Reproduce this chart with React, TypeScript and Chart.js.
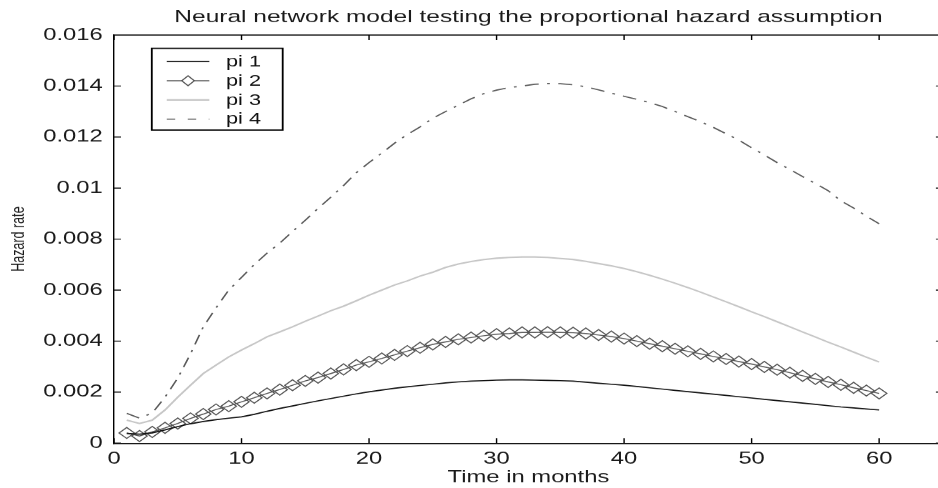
import React, { useEffect, useRef } from 'react';
import { Chart, registerables } from 'chart.js';

Chart.register(...registerables);

// ---- data -------------------------------------------------------------
const months = [
  1, 2, 3, 4, 5, 6, 7, 8, 9, 10, 11, 12, 13, 14, 15, 16, 17, 18, 19, 20,
  21, 22, 23, 24, 25, 26, 27, 28, 29, 30, 31, 32, 33, 34, 35, 36, 37, 38, 39, 40,
  41, 42, 43, 44, 45, 46, 47, 48, 49, 50, 51, 52, 53, 54, 55, 56, 57, 58, 59, 60,
];

const pi1 = [
  0.00038, 0.00035, 0.0004, 0.00052, 0.00065, 0.00076, 0.00085, 0.00092, 0.00098, 0.00103,
  0.00113, 0.00125, 0.00136, 0.00146, 0.00156, 0.00166, 0.00175, 0.00184, 0.00193, 0.00201,
  0.00208, 0.00215, 0.00221, 0.00226, 0.00231, 0.00236, 0.0024, 0.00243, 0.00245, 0.00247,
  0.00248, 0.00248, 0.00247, 0.00246, 0.00245, 0.00243, 0.00239, 0.00235, 0.00231, 0.00227,
  0.00222, 0.00217, 0.00212, 0.00207, 0.00202, 0.00197, 0.00192, 0.00187, 0.00182, 0.00177,
  0.00172, 0.00167, 0.00162, 0.00157, 0.00152, 0.00147, 0.00142, 0.00138, 0.00134, 0.0013,
];

const pi2 = [
  0.0004, 0.00028, 0.00044, 0.0006, 0.00077, 0.00097, 0.00114, 0.00132, 0.00145, 0.00162,
  0.00178, 0.00195, 0.0021, 0.00227, 0.00244, 0.00257, 0.00273, 0.00289, 0.00306, 0.00319,
  0.00332, 0.00346, 0.00361, 0.00374, 0.00387, 0.00397, 0.00407, 0.00414, 0.00421, 0.00427,
  0.0043, 0.00434, 0.00434, 0.00435, 0.00434, 0.00433, 0.0043, 0.00424, 0.00418, 0.0041,
  0.004, 0.0039, 0.0038, 0.0037, 0.0036, 0.0035, 0.0034, 0.0033, 0.0032, 0.0031,
  0.00299, 0.00288, 0.00276, 0.00264, 0.00252, 0.0024, 0.00229, 0.00217, 0.00206, 0.00195,
];

const pi3 = [
  0.0009, 0.00077, 0.0009, 0.0013, 0.0018, 0.00227, 0.00273, 0.00306, 0.00338, 0.00365,
  0.0039, 0.00417, 0.00436, 0.00456, 0.00478, 0.00498, 0.00519, 0.00537, 0.00558, 0.0058,
  0.006, 0.0062, 0.00636, 0.00655, 0.0067, 0.00689, 0.00702, 0.00712, 0.0072, 0.00725,
  0.00728, 0.0073, 0.0073, 0.00728, 0.00724, 0.0072, 0.00713, 0.00704, 0.00695, 0.00685,
  0.00672, 0.00658, 0.00643, 0.00627, 0.0061, 0.00592, 0.00573, 0.00554, 0.00535, 0.00515,
  0.00496, 0.00476, 0.00456, 0.00436, 0.00416, 0.00396, 0.00377, 0.00357, 0.00337, 0.00318,
];

const pi4 = [
  0.00117, 0.00098, 0.00118, 0.0018, 0.00255, 0.0035, 0.00456, 0.0053, 0.006, 0.0065,
  0.007, 0.00745, 0.00784, 0.0083, 0.00874, 0.0092, 0.00964, 0.0101, 0.0106, 0.011,
  0.01137, 0.01176, 0.0121, 0.0124, 0.01274, 0.013, 0.01325, 0.0135, 0.0137, 0.01384,
  0.01394, 0.014, 0.01407, 0.0141, 0.01409, 0.01405, 0.01397, 0.01385, 0.01372, 0.0136,
  0.01348, 0.01335, 0.0132, 0.013, 0.0128, 0.0126, 0.01238, 0.01213, 0.01188, 0.01158,
  0.0113, 0.011, 0.01073, 0.01045, 0.01018, 0.0099, 0.0095, 0.00922, 0.0089, 0.0086,
];

const seriesLabels = ['pi 1', 'pi 2', 'pi 3', 'pi 4'];
const chartTitle = 'Neural network model testing the proportional hazard assumption';
const xAxisTitle = 'Time in months';
const yAxisTitle = 'Hazard rate';

// ---- layout (reference is horizontally stretched) -----------------------
const SX = 1.4;
const CW = 680;
const CH = 488;
const FONT = '"Liberation Sans", Arial, Helvetica, sans-serif';

const toPoints = (vals: number[]) => months.map((m, i) => ({ x: m, y: vals[i] }));

const framePlugin = {
  id: 'frameTicks',
  afterDraw(chart: any) {
    const { ctx, chartArea: a, scales } = chart;
    const x = scales.x;
    const y = scales.y;
    ctx.save();
    ctx.strokeStyle = '#000';
    ctx.lineWidth = 1;
    ctx.beginPath();
    ctx.moveTo(a.left, a.top);
    ctx.lineTo(a.right, a.top);
    ctx.lineTo(a.right, a.bottom);
    for (const t of x.ticks) {
      const px = x.getPixelForValue(t.value);
      ctx.moveTo(px, a.bottom);
      ctx.lineTo(px, a.bottom - 5);
      ctx.moveTo(px, a.top);
      ctx.lineTo(px, a.top + 5);
    }
    for (const t of y.ticks) {
      const py = y.getPixelForValue(t.value);
      ctx.moveTo(a.left, py);
      ctx.lineTo(a.left + 5, py);
      ctx.moveTo(a.right, py);
      ctx.lineTo(a.right - 5, py);
    }
    ctx.stroke();
    ctx.restore();
  },
};

const legendPlugin = {
  id: 'boxLegend',
  afterDraw(chart: any) {
    const { ctx, chartArea: a } = chart;
    const bx = a.left + 27;
    const by = a.top + 13.3;
    const bw = 93.5;
    const bh = 81.7;
    ctx.save();
    ctx.fillStyle = '#fff';
    ctx.fillRect(bx, by, bw, bh);
    ctx.strokeStyle = '#000';
    ctx.lineWidth = 1.3;
    ctx.strokeRect(bx, by, bw, bh);
    const ds = chart.data.datasets;
    ds.forEach((d: any, i: number) => {
      const ry = by + 13.2 + i * 19.2;
      const x0 = bx + 10.7;
      const x1 = bx + 41.1;
      ctx.save();
      ctx.strokeStyle = d.borderColor;
      ctx.lineWidth = d.borderWidth;
      ctx.setLineDash(i === 3 ? [6, 9] : []);
      ctx.beginPath();
      ctx.moveTo(x0, ry);
      ctx.lineTo(x1, ry);
      ctx.stroke();
      ctx.restore();
      if (i === 1) {
        const cx = (x0 + x1) / 2;
        ctx.save();
        ctx.strokeStyle = d.pointBorderColor;
        ctx.lineWidth = 1;
        ctx.fillStyle = '#fff';
        ctx.beginPath();
        ctx.moveTo(cx - 4.5, ry);
        ctx.lineTo(cx, ry - 5);
        ctx.lineTo(cx + 4.5, ry);
        ctx.lineTo(cx, ry + 5);
        ctx.closePath();
        ctx.fill();
        ctx.stroke();
        ctx.restore();
      }
      ctx.fillStyle = '#111';
      ctx.font = `15.5px ${FONT}`;
      ctx.textAlign = 'left';
      ctx.textBaseline = 'middle';
      ctx.fillText(d.label, bx + 53, ry + 0.5);
    });
    ctx.restore();
  },
};

export default function App() {
  const ref = useRef<HTMLCanvasElement>(null);

  useEffect(() => {
    const canvas = ref.current;
    if (!canvas) return;
    const chart = new Chart(canvas, {
      type: 'line',
      data: {
        datasets: [
          {
            label: seriesLabels[0],
            data: toPoints(pi1),
            borderColor: '#111',
            borderWidth: 1.2,
            pointRadius: 0,
            tension: 0,
          },
          {
            label: seriesLabels[1],
            data: toPoints(pi2),
            borderColor: '#555',
            borderWidth: 1,
            pointStyle: 'rectRot',
            pointRadius: 5.5,
            pointBorderColor: '#555',
            pointBorderWidth: 1,
            pointBackgroundColor: 'rgba(0,0,0,0)',
            tension: 0,
          },
          {
            label: seriesLabels[2],
            data: toPoints(pi3),
            borderColor: '#c6c6c6',
            borderWidth: 1.5,
            pointRadius: 0,
            tension: 0,
          },
          {
            label: seriesLabels[3],
            data: toPoints(pi4),
            borderColor: '#5a5a5a',
            borderWidth: 1.2,
            borderDash: [10, 6, 2, 6],
            pointRadius: 0,
            tension: 0,
          },
        ],
      },
      options: {
        responsive: false,
        devicePixelRatio: SX,
        animation: false,
        events: [],
        layout: { padding: { left: 0, right: CW - 944 / SX, top: 0, bottom: 0 } },
        plugins: {
          legend: { display: false },
          tooltip: { enabled: false },
          title: {
            display: true,
            text: chartTitle,
            fullSize: false,
            color: '#1a1a1a',
            font: { family: FONT, size: 17.5, weight: 'normal', lineHeight: 1.2 },
            padding: { top: 6.5, bottom: 7.5 },
          },
        },
        scales: {
          x: {
            type: 'linear',
            min: 0,
            max: 65,
            grid: { display: false, drawTicks: false },
            border: { display: true, color: '#000', width: 1 },
            ticks: {
              stepSize: 10,
              includeBounds: false,
              autoSkip: false,
              maxRotation: 0,
              padding: 6,
              color: '#1a1a1a',
              font: { family: FONT, size: 17 },
            },
            title: {
              display: true,
              text: xAxisTitle,
              color: '#1a1a1a',
              font: { family: FONT, size: 17, lineHeight: 1.2 },
              padding: { top: 0, bottom: 0 },
            },
            afterFit: (s: any) => {
              s.height = CH - 443;
            },
          },
          y: {
            type: 'linear',
            min: 0,
            max: 0.016,
            grid: { display: false, drawTicks: false },
            border: { display: true, color: '#000', width: 1 },
            ticks: {
              stepSize: 0.002,
              padding: 8,
              color: '#1a1a1a',
              font: { family: FONT, size: 17 },
              callback: (v: any) => String(Number(Number(v).toFixed(3))),
            },
            title: {
              display: true,
              text: yAxisTitle,
              color: '#1a1a1a',
              font: { family: FONT, size: 12.5, lineHeight: 1.2 },
              padding: { top: 6, bottom: 0 },
            },
            afterFit: (s: any) => {
              s.width = 114 / SX;
            },
          },
        },
      },
      plugins: [framePlugin, legendPlugin],
    });
    return () => chart.destroy();
  }, []);

  return (
    <div
      style={{
        position: 'fixed',
        left: 0,
        top: 0,
        width: 938,
        height: 488,
        overflow: 'hidden',
        background: '#fff',
      }}
    >
      <div
        style={{
          width: CW,
          height: CH,
          transform: `scaleX(${SX})`,
          transformOrigin: '0 0',
        }}
      >
        <canvas ref={ref} width={CW} height={CH} />
      </div>
    </div>
  );
}
